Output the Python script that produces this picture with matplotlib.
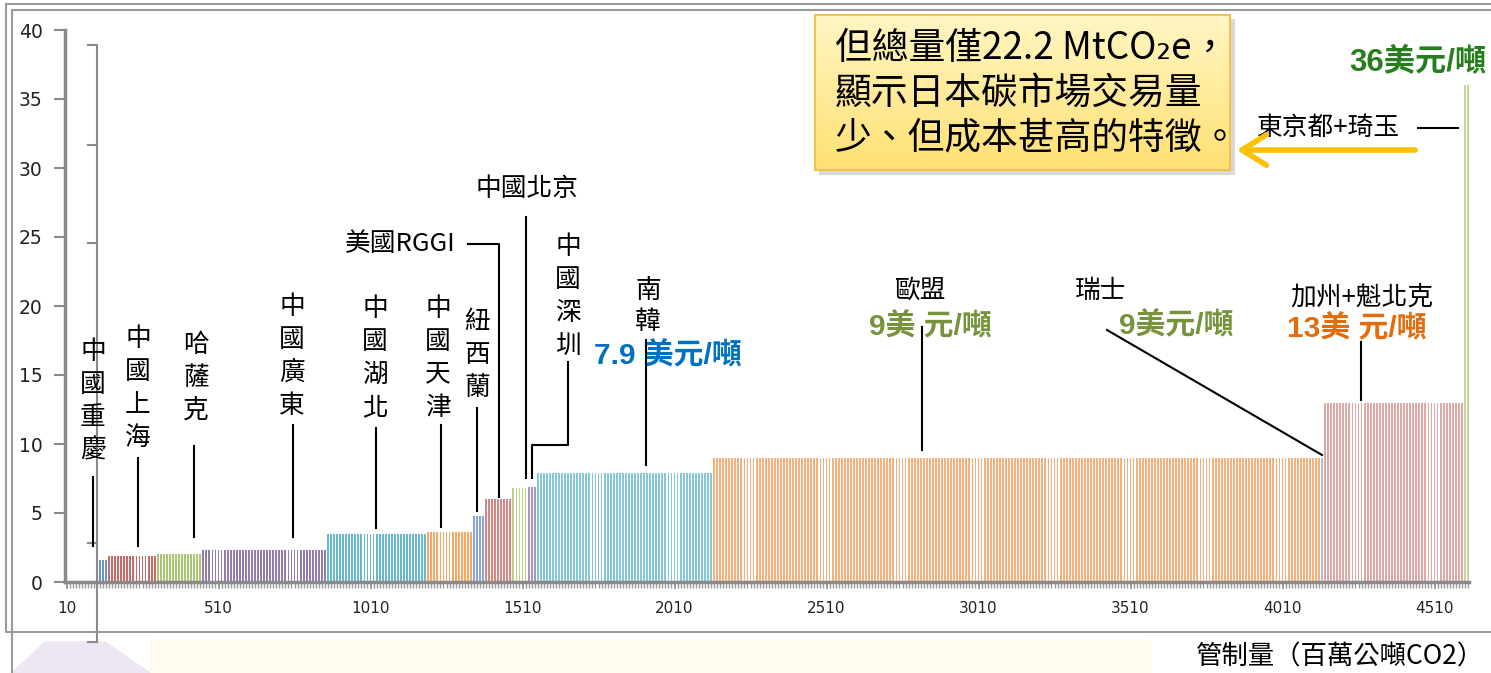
import numpy as np
import matplotlib.pyplot as plt
from matplotlib.patches import Rectangle, Polygon, FancyArrowPatch
from matplotlib.lines import Line2D
from matplotlib.colors import to_rgb

CJK = ['Noto Sans CJK TC', 'DejaVu Sans']
BOLD = ['Liberation Sans', 'Noto Sans CJK TC']

# each bar = 10 百萬公噸, leading empty categories before the first market
empty_blocks = 11
markets = ['中國重慶', '中國上海', '哈薩克', '中國廣東', '中國湖北', '中國天津', '紐西蘭',
           '美國RGGI', '中國北京', '中國深圳', '南韓', '歐盟', '瑞士', '加州+魁北克', '東京都+琦玉']
prices = [1.6, 1.9, 2.0, 2.3, 3.5, 3.6, 4.8, 6.0, 6.8, 6.9, 7.9, 9.0, 9.0, 13.0, 36.0]
blocks = [3, 16, 15, 41, 33, 15, 4, 9, 5, 3, 58, 200, 1, 46, 2]
colors = ['#4F81BD', '#C0504D', '#9BBB59', '#8064A2', '#4BACC6', '#F79646', '#7294CD',
          '#CD6F6C', '#AFC97A', '#9983B5', '#6FBDD1', '#F9A262', '#95B3D7', '#D99694', '#B9D08C']
tick_values = [10, 510, 1010, 1510, 2010, 2510, 3010, 3510, 4010, 4510]
y_ticks = [0, 5, 10, 15, 20, 25, 30, 35, 40]

W, H = 1491, 673
def fx(x):
    return x / W
def fy(y):
    return 1 - y / H

def tint(c, a):
    r = np.array(to_rgb(c))
    return tuple(r + (1 - r) * a)

fig = plt.figure(figsize=(W / 100, H / 100), dpi=100)

# slide background below the chart frame
fig.add_artist(Rectangle((fx(150), 0), fx(1150) - fx(150), fy(640), transform=fig.transFigure,
                         color='#FFFCEF', zorder=0))
fig.add_artist(Polygon([(fx(12), 0), (fx(45), fy(642)), (fx(105), fy(642)), (fx(150), 0)],
                       transform=fig.transFigure, color='#EEE7F3', zorder=0))

n = empty_blocks + sum(blocks)
categories = [10 * (i + 1) for i in range(n)]

ax = fig.add_axes([fx(65), fy(582), fx(65 + 3.04 * n) - fx(65), fy(30) - fy(582)])
start = empty_blocks
for name, p, b, c in zip(markets, prices, blocks, colors):
    idx = np.arange(start, start + b)
    ax.bar(idx, [p] * b, width=0.6, color=tint(c, 0.15), linewidth=0, zorder=2)
    start += b

ax.set_xlim(-0.5, n - 0.5)
ax.set_ylim(0, 40)
ax.set_yticks(y_ticks)
ax.set_xticks([categories.index(v) for v in tick_values])
ax.set_xticklabels([str(v) for v in tick_values])
ax.set_xticks(np.arange(n), minor=True)
for s in ['top', 'right']:
    ax.spines[s].set_visible(False)
for s in ['left', 'bottom']:
    ax.spines[s].set_color('#8A8A8A')
    ax.spines[s].set_linewidth(2.5)
ax.tick_params(axis='y', direction='out', length=8, width=1.5, color='#8A8A8A',
               labelsize=13.5, pad=8, labelcolor='#222222')
ax.tick_params(axis='x', which='major', direction='out', length=5, width=1.2, color='#8A8A8A',
               labelsize=11, pad=9, labelcolor='#222222')
ax.tick_params(axis='x', which='minor', direction='out', length=4.5, width=1, color='#9A9A9A')
ax.set_facecolor('none')

# frame around chart
gray = '#9A9A9A'
for xs, ys in [([6, 6, W], [4, 632, 632]), ([12, 12], [10, H]), ([6, W], [4, 4]), ([12, W], [10, 10])]:
    fig.add_artist(Line2D([fx(v) for v in xs], [fy(v) for v in ys], transform=fig.transFigure,
                          color=gray, lw=1.5))

# stray secondary axis
fig.add_artist(Line2D([fx(97), fx(97)], [fy(45), fy(642)], transform=fig.transFigure, color='#8A8A8A', lw=1.5))
for ty in [45, 145, 243, 543, 642]:
    fig.add_artist(Line2D([fx(88), fx(97)], [fy(ty), fy(ty)], transform=fig.transFigure, color='#8A8A8A', lw=1.5))

def seg(pts, lw=1.5, color='black'):
    fig.add_artist(Line2D([fx(p[0]) for p in pts], [fy(p[1]) for p in pts],
                          transform=fig.transFigure, color=color, lw=lw, zorder=5))

def vlabel(s, x, y0, step=33):
    for k, ch in enumerate(s):
        fig.text(fx(x), fy(y0 + k * step), ch, ha='center', va='center', fontsize=18.5, family=CJK)

def hlabel(s, x, y, ha='center'):
    fig.text(fx(x), fy(y), s, ha=ha, va='center', fontsize=18.5, family=CJK)

def price(s, x, y, color, size=21.5):
    fig.text(fx(x), fy(y), s, ha='center', va='center', fontsize=size, family=BOLD,
             fontweight='bold', color=color)

vlabel('中國重慶', 93, 352)
seg([(93, 477), (93, 546)])
vlabel('中國上海', 138, 339)
seg([(138, 458), (138, 546)])
vlabel('哈薩克', 196, 345)
seg([(194, 446), (194, 537)])
vlabel('中國廣東', 292, 307)
seg([(293, 425), (293, 537)])
vlabel('中國湖北', 375, 309)
seg([(376, 428), (376, 528)])
vlabel('中國天津', 438, 309)
seg([(441, 425), (441, 527)])
vlabel('紐西蘭', 477, 322)
seg([(477, 408), (477, 511)])
hlabel('美國RGGI', 456, 244, ha='right')
seg([(468, 244), (499, 244), (499, 497)])
hlabel('中國北京', 527, 189)
seg([(526, 217), (526, 478)])
vlabel('中國深圳', 568, 247)
seg([(568, 362), (568, 445), (532, 445), (532, 478)])
vlabel('南韓', 648, 291, step=31)
seg([(646, 340), (646, 465)])
price('7.9 美元/噸', 668, 356, '#0070C0')
hlabel('歐盟', 921, 291)
price('9美 元/噸', 930, 327, '#77933C')
seg([(922, 327), (922, 450)])
hlabel('瑞士', 1101, 291)
price('9美元/噸', 1176, 326, '#77933C')
seg([(1107, 330), (1322, 455)])
hlabel('加州+魁北克', 1362, 298)
price('13美 元/噸', 1357, 329, '#E46C0A')
seg([(1361, 342), (1361, 400)])
hlabel('東京都+琦玉', 1329, 128)
seg([(1418, 128), (1458, 128)])
price('36美元/噸', 1418, 62, '#267E1E', size=22.5)

# callout box
fig.add_artist(Rectangle((fx(819), fy(175)), fx(1235) - fx(819), fy(19) - fy(175),
                         transform=fig.transFigure, color='#000000', alpha=0.15, lw=0, zorder=6))
bax = fig.add_axes([fx(815), fy(170), fx(1230) - fx(815), fy(15) - fy(170)], zorder=7)
grad = np.linspace(0, 1, 100)[:, None]
top, bot = np.array(to_rgb('#FFF6C4')), np.array(to_rgb('#FFE073'))
img = top[None, None, :] * (1 - grad[..., None]) + bot[None, None, :] * grad[..., None]
bax.imshow(np.repeat(img, 2, axis=1), aspect='auto', extent=[0, 1, 0, 1])
bax.set_xticks([])
bax.set_yticks([])
for s in bax.spines.values():
    s.set_color('#F2C14E')
    s.set_linewidth(1.5)
for k, line in enumerate(['但總量僅22.2 MtCO₂e，', '顯示日本碳市場交易量', '少、但成本甚高的特徵。']):
    fig.text(fx(835), fy(48 + k * 45), line, ha='left', va='center', fontsize=26.5,
             family=CJK, zorder=8)
fig.add_artist(FancyArrowPatch((fx(1418), fy(150)), (fx(1234), fy(150)), transform=fig.transFigure,
                               arrowstyle='->,head_length=0.8,head_width=0.5', mutation_scale=22,
                               color='#FFC000', lw=4, zorder=8))

fig.text(fx(1484), fy(657), '管制量（百萬公噸CO2）', ha='right', va='center', fontsize=19, family=CJK)

fig.savefig('out.png', dpi=100)
